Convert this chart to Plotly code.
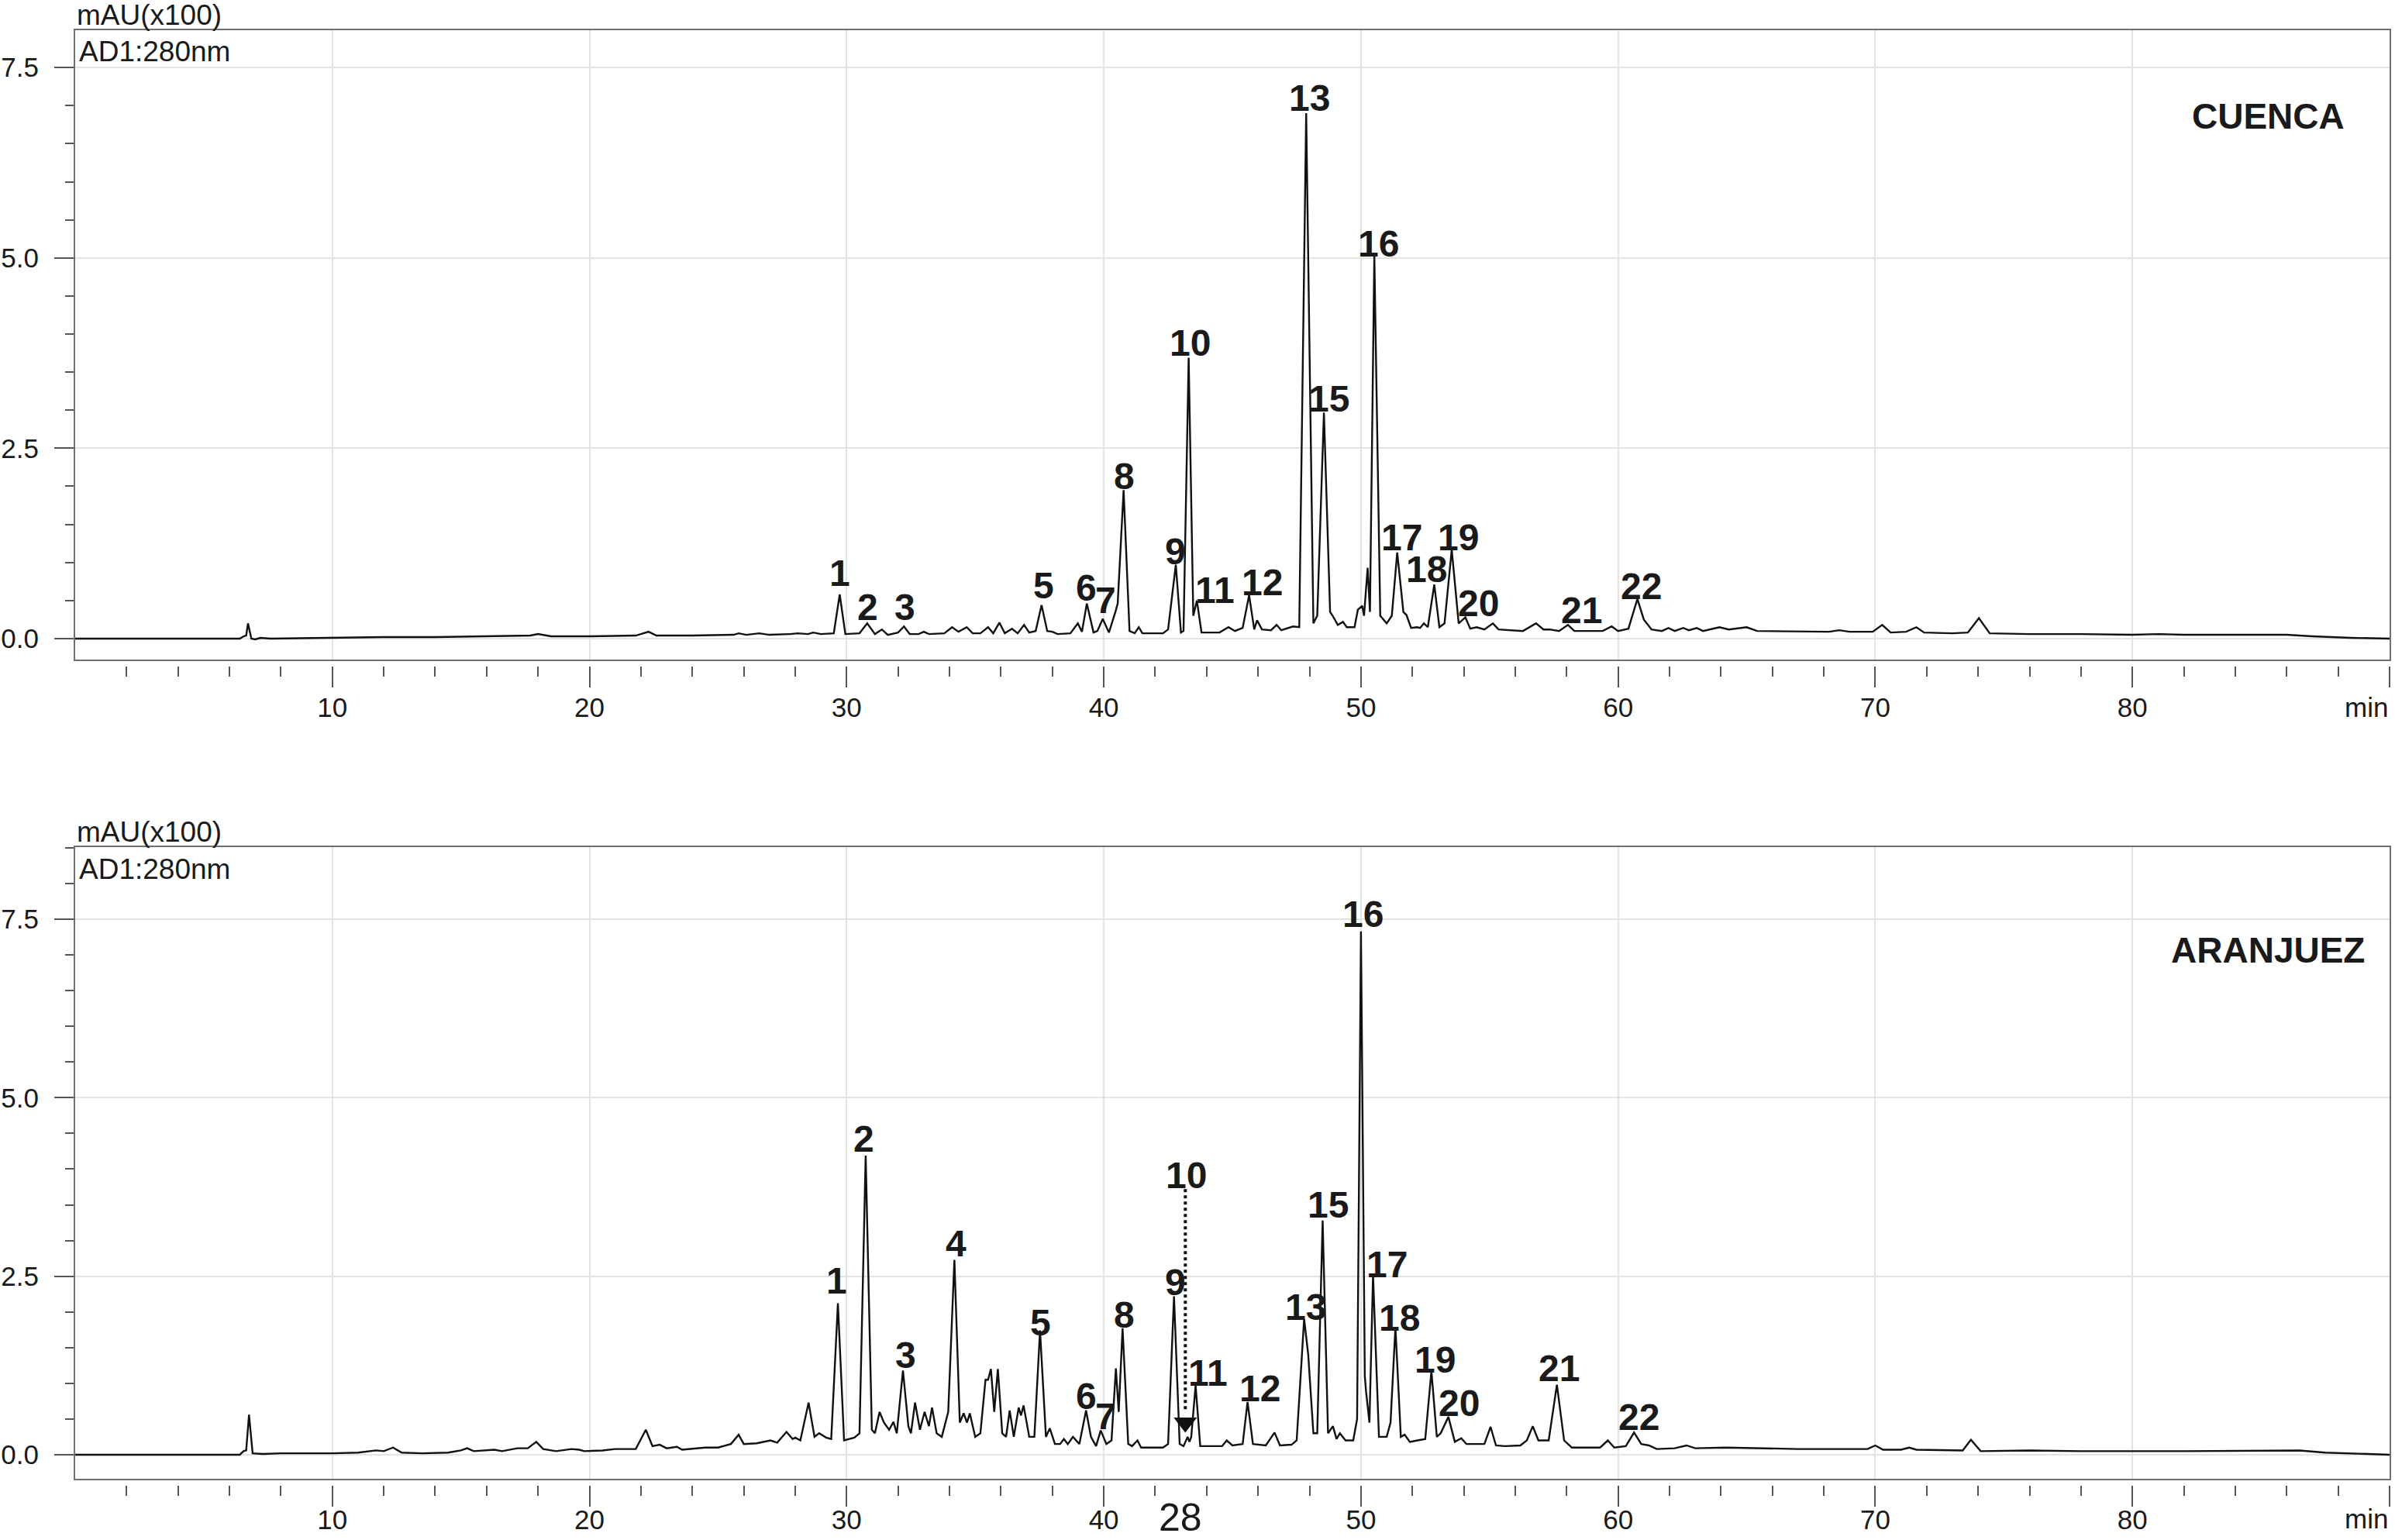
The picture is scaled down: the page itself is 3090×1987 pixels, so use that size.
import plotly.graph_objects as go

# HPLC chromatograms at 280 nm, two origins (mAU x100 vs retention time in min)

# CUENCA trace: retention time (min) and absorbance (mAU x100)
cuenca_t = [0.0, 6.4, 6.55, 6.65, 6.72, 6.85, 7.0, 7.2, 7.6, 8.5, 10.0, 12.0, 14.0, 16.0, 17.7, 18.0,
            18.5, 20.0, 21.8, 22.3, 22.6, 24.0, 25.6, 25.8, 26.1, 26.6, 27.0, 27.8, 28.1, 28.5, 28.7,
            29.0, 29.3, 29.5, 29.73, 29.95, 30.5, 30.8, 31.1, 31.37, 31.6, 31.9, 32.0, 32.23, 32.45,
            32.8, 33.0, 33.2, 33.8, 34.1, 34.35, 34.67, 34.9, 35.2, 35.5, 35.7, 35.94, 36.15, 36.43,
            36.65, 36.9, 37.1, 37.35, 37.58, 37.8, 38.0, 38.2, 38.7, 38.99, 39.15, 39.34, 39.6, 39.75,
            39.96, 40.2, 40.45, 40.54, 40.77, 41.0, 41.2, 41.36, 41.5, 42.3, 42.5, 42.8, 43.0, 43.1,
            43.3, 43.48, 43.62, 43.8, 44.5, 44.85, 45.1, 45.4, 45.65, 45.85, 45.96, 46.15, 46.5, 46.72,
            46.9, 47.36, 47.6, 47.87, 48.15, 48.3, 48.56, 48.8, 48.9, 49.1, 49.3, 49.45, 49.6, 49.75,
            49.88, 50.05, 50.12, 50.26, 50.35, 50.52, 50.75, 51.0, 51.2, 51.41, 51.65, 51.77, 51.95,
            52.18, 52.3, 52.45, 52.6, 52.85, 53.05, 53.25, 53.53, 53.8, 54.06, 54.25, 54.5, 54.8,
            55.13, 55.35, 56.3, 56.81, 57.1, 57.35, 57.7, 58.05, 58.3, 59.4, 59.75, 60.0, 60.4, 60.75,
            61.0, 61.3, 61.7, 61.96, 62.2, 62.53, 62.75, 63.06, 63.3, 63.94, 64.3, 65.0, 65.4, 67.0,
            68.2, 68.6, 69.0, 69.9, 70.27, 70.6, 71.2, 71.6, 71.9, 73.0, 73.6, 74.03, 74.45, 76.0,
            78.0, 80.0, 81.0, 82.0, 86.0, 87.0, 88.5, 90.0]
cuenca_au = [0.0, 0.0, 0.03, 0.04, 0.2, 0.0, -0.01, 0.01, 0.0, 0.005, 0.01, 0.02, 0.02, 0.03, 0.04, 0.06,
             0.03, 0.03, 0.04, 0.09, 0.04, 0.04, 0.05, 0.07, 0.05, 0.07, 0.05, 0.06, 0.07, 0.06, 0.08,
             0.06, 0.07, 0.07, 0.58, 0.06, 0.07, 0.2, 0.06, 0.12, 0.05, 0.07, 0.08, 0.16, 0.06,
             0.06, 0.09, 0.06, 0.07, 0.15, 0.09, 0.15, 0.07, 0.07, 0.15, 0.07, 0.21, 0.07, 0.13,
             0.07, 0.18, 0.08, 0.1, 0.44, 0.1, 0.09, 0.06, 0.07, 0.2, 0.09, 0.46, 0.08, 0.1,
             0.26, 0.08, 0.35, 0.46, 1.95, 0.1, 0.07, 0.15, 0.07, 0.07, 0.12, 0.97, 0.08, 0.1,
             3.69, 0.3, 0.5, 0.08, 0.08, 0.15, 0.1, 0.14, 0.57, 0.12, 0.24, 0.12, 0.11, 0.18,
             0.11, 0.16, 0.15, 6.9, 0.2, 0.3, 2.97, 0.35, 0.3, 0.18, 0.22, 0.15, 0.15, 0.15,
             0.38, 0.43, 0.3, 0.93, 0.35, 5.03, 0.3, 0.2, 0.3, 1.13, 0.35, 0.31, 0.14,
             0.15, 0.14, 0.2, 0.15, 0.71, 0.15, 0.2, 1.17, 0.2, 0.28, 0.13, 0.15, 0.12,
             0.2, 0.12, 0.1, 0.2, 0.12, 0.12, 0.1, 0.18, 0.1, 0.1, 0.16, 0.1, 0.13, 0.52,
             0.25, 0.12, 0.1, 0.14, 0.1, 0.14, 0.11, 0.14, 0.1, 0.15, 0.12, 0.15, 0.1, 0.09,
             0.09, 0.11, 0.09, 0.09, 0.18, 0.08, 0.09, 0.15, 0.08, 0.07, 0.08, 0.27, 0.07, 0.06,
             0.06, 0.05, 0.06, 0.05, 0.05, 0.03, 0.01, 0.0]

# ARANJUEZ trace
aranjuez_t = [0.0, 6.4, 6.55, 6.65, 6.76, 6.9, 7.3, 8.0, 10.0, 11.0, 11.7, 12.0, 12.36, 12.7, 13.5, 14.5,
              15.0, 15.24, 15.5, 16.0, 16.3, 16.6, 17.2, 17.6, 17.93, 18.2, 18.7, 19.3, 19.6, 19.8,
              20.5, 21.0, 21.8, 22.19, 22.45, 22.73, 23.0, 23.4, 23.6, 24.5, 25.0, 25.5, 25.8, 26.0,
              26.5, 27.04, 27.3, 27.66, 27.9, 28.0, 28.2, 28.52, 28.75, 28.93, 29.2, 29.4, 29.66,
              29.9, 30.3, 30.5, 30.74, 30.98, 31.1, 31.28, 31.45, 31.65, 31.82, 31.95, 32.19, 32.4,
              32.5, 32.66, 32.85, 33.03, 33.2, 33.32, 33.5, 33.7, 33.95, 34.19, 34.4, 34.55, 34.68,
              34.79, 35.0, 35.2, 35.4, 35.5, 35.61, 35.74, 35.88, 36.05, 36.2, 36.34, 36.5, 36.69,
              36.78, 36.88, 37.1, 37.3, 37.52, 37.75, 37.9, 38.1, 38.3, 38.45, 38.6, 38.8, 39.05,
              39.31, 39.5, 39.7, 39.88, 40.1, 40.3, 40.47, 40.58, 40.73, 40.95, 41.1, 41.31, 41.45,
              42.3, 42.5, 42.73, 42.95, 43.1, 43.26, 43.33, 43.4, 43.57, 43.75, 44.6, 44.78, 45.0,
              45.4, 45.59, 45.8, 46.3, 46.64, 46.85, 47.3, 47.5, 47.79, 47.95, 48.15, 48.3, 48.51,
              48.72, 48.91, 49.05, 49.18, 49.4, 49.7, 49.85, 50.0, 50.15, 50.2, 50.33, 50.47, 50.7,
              51.0, 51.15, 51.34, 51.55, 51.7, 51.9, 52.2, 52.5, 52.74, 52.95, 53.1, 53.4, 53.65,
              53.9, 54.1, 54.6, 54.8, 55.04, 55.25, 55.6, 56.2, 56.45, 56.68, 56.9, 57.3, 57.62,
              57.9, 58.2, 59.3, 59.6, 59.85, 60.3, 60.62, 60.9, 61.2, 61.5, 62.2, 62.66, 63.0, 64.2,
              65.5, 67.0, 69.7, 70.0, 70.3, 71.0, 71.32, 71.6, 73.4, 73.72, 74.1, 76.0, 78.0, 82.0,
              86.5, 87.5, 90.0]
aranjuez_au = [0.0, 0.0, 0.05, 0.06, 0.56, 0.02, 0.01, 0.02, 0.02, 0.03, 0.06, 0.05, 0.1, 0.03, 0.02, 0.03,
               0.06, 0.09, 0.05, 0.06, 0.07, 0.05, 0.09, 0.09, 0.18, 0.08, 0.05, 0.08, 0.07, 0.05,
               0.06, 0.08, 0.08, 0.35, 0.12, 0.14, 0.09, 0.11, 0.07, 0.1, 0.1, 0.15, 0.28, 0.15,
               0.16, 0.2, 0.17, 0.32, 0.22, 0.24, 0.2, 0.73, 0.25, 0.3, 0.24, 0.22, 2.12,
               0.2, 0.24, 0.3, 4.19, 0.35, 0.3, 0.6, 0.45, 0.35, 0.46, 0.3, 1.18, 0.4,
               0.3, 0.73, 0.35, 0.6, 0.4, 0.66, 0.3, 0.25, 0.6, 2.73, 0.45, 0.58, 0.45,
               0.58, 0.25, 0.3, 1.05, 1.05, 1.2, 0.6, 1.2, 0.3, 0.25, 0.62, 0.25, 0.66,
               0.55, 0.69, 0.25, 0.25, 1.74, 0.25, 0.37, 0.15, 0.15, 0.22, 0.15, 0.25, 0.15,
               0.62, 0.25, 0.12, 0.34, 0.15, 0.2, 1.21, 0.6, 1.77, 0.15, 0.12, 0.2, 0.1,
               0.1, 0.15, 2.22, 0.15, 0.12, 0.25, 0.18, 0.25, 0.97, 0.12, 0.12, 0.2, 0.13,
               0.15, 0.74, 0.15, 0.13, 0.31, 0.13, 0.14, 0.2, 1.9, 1.4, 0.3, 0.3, 3.28,
               0.3, 0.4, 0.22, 0.3, 0.2, 0.2, 0.5, 7.33, 1.1, 0.88, 0.45, 2.52, 0.25,
               0.25, 0.45, 1.79, 0.25, 0.28, 0.18, 0.2, 0.22, 1.17, 0.25, 0.3, 0.53, 0.18,
               0.23, 0.15, 0.15, 0.15, 0.39, 0.13, 0.12, 0.13, 0.2, 0.4, 0.2, 0.2, 0.98,
               0.2, 0.1, 0.1, 0.2, 0.1, 0.12, 0.31, 0.15, 0.13, 0.08, 0.09, 0.13, 0.09, 0.1,
               0.09, 0.08, 0.08, 0.13, 0.07, 0.07, 0.1, 0.07, 0.06, 0.21, 0.05, 0.06, 0.05, 0.05,
               0.06, 0.03, 0.0]

# numbered compounds shown on each chromatogram
cuenca_peaks = ["1", "2", "3", "5", "6", "7", "8", "9", "10", "11", "12", "13", "15", "16", "17",
                "18", "19", "20", "21", "22"]
aranjuez_peaks = ["1", "2", "3", "4", "5", "6", "7", "8", "9", "10", "11", "12", "13", "15", "16",
                  "17", "18", "19", "20", "21", "22"]
aranjuez_peak10_t = 43.17   # compound 10 hidden under peak 9 tail (arrow)

x_ticks = [10, 20, 30, 40, 50, 60, 70, 80, 90]
x_ticktext = ["10", "20", "30", "40", "50", "60", "70", "80", ""]
x_minor = [v for v in range(2, 90, 2) if v % 10 != 0]

# where the peak numbers sit (layout, in data units)
cuenca_label_pos = [(29.73, 0.86), (30.81, 0.41), (32.26, 0.41), (37.67, 0.70), (39.33, 0.67),
                    (40.07, 0.50), (40.79, 2.13), (42.79, 1.14), (43.35, 3.88), (44.33, 0.64),
                    (46.15, 0.74), (48.01, 7.10), (48.75, 3.15), (50.67, 5.19), (51.60, 1.33),
                    (52.55, 0.91), (53.79, 1.33), (54.57, 0.46), (58.59, 0.37), (60.91, 0.69)]
aranjuez_label_pos = [(29.62, 2.44), (30.67, 4.42), (32.29, 1.39), (34.24, 2.96), (37.54, 1.85),
                      (39.33, 0.82), (40.07, 0.54), (40.79, 1.96), (42.79, 2.42), (43.22, 3.91),
                      (44.06, 1.15), (46.08, 0.93), (47.85, 2.07), (48.72, 3.50), (50.07, 7.57),
                      (51.01, 2.66), (51.51, 1.92), (52.89, 1.33), (53.83, 0.72), (57.69, 1.21),
                      (60.82, 0.53)]

FONT = "Liberation Sans, Arial, Helvetica, sans-serif"
INK = "#1a1a1a"
W, H = 3090, 1987


def px(xr):
    return xr / W


def py(yr):
    return 1 - yr / H


fig = go.Figure()
fig.add_trace(go.Scatter(x=cuenca_t, y=cuenca_au, mode="lines", xaxis="x", yaxis="y",
                         line=dict(color="#111111", width=2.4)))
fig.add_trace(go.Scatter(x=aranjuez_t, y=aranjuez_au, mode="lines", xaxis="x2", yaxis="y2",
                         line=dict(color="#111111", width=2.4)))
# dotted pointer for compound 10 in ARANJUEZ
fig.add_trace(go.Scatter(x=[aranjuez_peak10_t, aranjuez_peak10_t], y=[3.72, 0.6], mode="lines",
                         xaxis="x2", yaxis="y2", line=dict(color="#111111", width=4, dash="dot")))
fig.add_trace(go.Scatter(x=[aranjuez_peak10_t], y=[0.45], mode="markers", xaxis="x2", yaxis="y2",
                         marker=dict(symbol="triangle-down", size=26, color="#111111")))
# dummy traces so the detached tick axes get drawn
fig.add_trace(go.Scatter(x=[0], y=[None], xaxis="x3", yaxis="y", mode="lines", hoverinfo="skip"))
fig.add_trace(go.Scatter(x=[0], y=[None], xaxis="x4", yaxis="y2", mode="lines", hoverinfo="skip"))

x_dom = [px(97), px(3083)]
top_dom = [py(851), py(39)]
bot_dom = [py(1908), py(1093)]

# box + grid + tick labels
box_x = dict(range=[0, 90], domain=x_dom, showgrid=True, gridcolor="#e3e3e3", gridwidth=1.5,
             tickmode="array", tickvals=x_ticks, ticktext=x_ticktext, ticks="",
             tickfont=dict(family=FONT, size=35, color=INK), ticklabelstandoff=30,
             showline=True, linecolor="#707070", linewidth=2.2, mirror=True, zeroline=False,
             automargin=False)
# detached tick marks under the box
tick_x = dict(range=[0, 90], tickmode="array", tickvals=x_ticks, showticklabels=False,
              ticks="outside", ticklen=27, tickwidth=1.5, tickcolor="#555555",
              showline=False, showgrid=False, zeroline=False, anchor="free", automargin=False,
              minor=dict(tickmode="array", tickvals=x_minor, ticks="outside", ticklen=13,
                         tickwidth=1.5, tickcolor="#555555"))
box_y = dict(tickmode="linear", tick0=0, dtick=2.5, tickformat=".1f", ticks="outside", ticklen=25,
             tickwidth=1.5, tickcolor="#555555", showgrid=True, gridcolor="#e3e3e3", gridwidth=1.5,
             showline=True, linecolor="#707070", linewidth=2.2, mirror=True, zeroline=False,
             tickfont=dict(family=FONT, size=35, color=INK), ticklabelstandoff=13, automargin=False,
             minor=dict(tick0=0, dtick=0.5, ticks="outside", ticklen=11, tickwidth=1.5,
                        tickcolor="#555555"))

fig.update_layout(
    width=W, height=H, margin=dict(l=0, r=0, t=0, b=0, autoexpand=False),
    paper_bgcolor="white", plot_bgcolor="white", showlegend=False,
    xaxis=dict(box_x, anchor="y"),
    # bottom row of labels sits right on the page edge; lift it a touch so it stays whole
    xaxis2=dict(box_x, anchor="y2", ticklabelstandoff=21),
    xaxis3=dict(tick_x, overlaying="x", position=py(859)),
    xaxis4=dict(tick_x, overlaying="x2", position=py(1916)),
    yaxis=dict(box_y, domain=top_dom, range=[-0.275, 7.99], anchor="x"),
    yaxis2=dict(box_y, domain=bot_dom, range=[-0.337, 8.51], anchor="x2"),
)

ann = []
for xa, ya, names, pos in [("x", "y", cuenca_peaks, cuenca_label_pos),
                           ("x2", "y2", aranjuez_peaks, aranjuez_label_pos)]:
    for name, (lx, ly) in zip(names, pos):
        ann.append(dict(x=lx, y=ly, xref=xa, yref=ya, text=name, showarrow=False,
                        xanchor="center", yanchor="middle",
                        font=dict(family=FONT, size=48, color=INK, weight="bold")))

small = dict(family=FONT, size=37, color=INK)
for top_px in [39, 1093]:
    ann.append(dict(x=px(97), y=py(top_px - 20), xref="paper", yref="paper", text="mAU(x100)",
                    showarrow=False, xanchor="left", yanchor="middle", font=small))
    ann.append(dict(x=px(100), y=py(top_px + 28), xref="paper", yref="paper", text="AD1:280nm",
                    showarrow=False, xanchor="left", yanchor="middle", font=small))
for row_px in [912, 1959]:
    ann.append(dict(x=px(3083), y=py(row_px), xref="paper", yref="paper", text="min",
                    showarrow=False, xanchor="right", yanchor="middle",
                    font=dict(family=FONT, size=35, color=INK)))

ann.append(dict(x=px(2926), y=py(150), xref="paper", yref="paper", text="CUENCA", showarrow=False,
                xanchor="center", yanchor="middle", font=dict(family=FONT, size=46, color=INK, weight="bold")))
ann.append(dict(x=px(2926), y=py(1226), xref="paper", yref="paper", text="ARANJUEZ", showarrow=False,
                xanchor="center", yanchor="middle", font=dict(family=FONT, size=46, color=INK, weight="bold")))
# page number printed under the figure
ann.append(dict(x=px(1523), y=py(1958), xref="paper", yref="paper", text="28", showarrow=False,
                xanchor="center", yanchor="middle", font=dict(family=FONT, size=50, color=INK)))

fig.update_layout(annotations=ann)
# drop the default body margin so the 3090x1987 figure fills the window exactly
fig.write_html("out.html", config={"displayModeBar": False},
               post_script="document.body.style.margin='0';")
